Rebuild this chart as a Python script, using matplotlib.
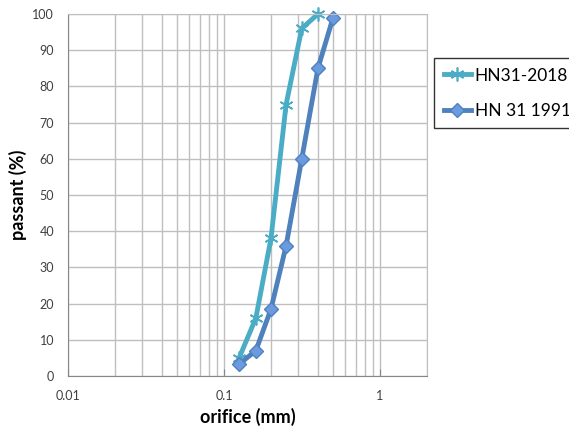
import numpy as np
import matplotlib.pyplot as plt
from matplotlib.ticker import LogLocator, FixedLocator, NullFormatter

plt.rcParams['font.family'] = ['Lato', 'DejaVu Sans']

# sieve openings (mm) and percent passing
x_2018 = [0.125, 0.16, 0.2, 0.25, 0.315, 0.4]
y_2018 = [5, 16, 38, 75, 96, 100]
x_1991 = [0.125, 0.16, 0.2, 0.25, 0.315, 0.4, 0.5]
y_1991 = [3.3, 7, 18.5, 36, 60, 85, 99]

fig = plt.figure(figsize=(5.69, 4.32), dpi=100)
ax = fig.add_axes([68/569, 56/432, 359/569, 362/432])

ax.plot(x_2018, y_2018, color='#4BACC6', lw=3.5, marker=(6, 2, 0),
        ms=10, mew=1.2, label='HN31-2018', clip_on=False)
ax.plot(x_1991, y_1991, color='#4F81BD', lw=3.5, marker='D', ms=7,
        mfc='#6A9BE0', mec='#4F81BD', label='HN 31 1991', clip_on=False)

ax.set_xscale('log')
ax.set_xlim(0.01, 2)
ax.set_ylim(0, 100)
ax.xaxis.set_major_locator(FixedLocator([0.01, 0.1, 1]))
ax.xaxis.set_minor_locator(LogLocator(base=10, subs=np.arange(2, 10)))
ax.xaxis.set_minor_formatter(NullFormatter())
ax.set_xticklabels(['0.01', '0.1', '1'])
ax.set_yticks(np.arange(0, 101, 10))

ax.grid(True, which='both', axis='x', color='#BFBFBF', lw=1)
ax.grid(True, axis='y', color='#BFBFBF', lw=1)
ax.set_axisbelow(True)
for s in ['top', 'right']:
    ax.spines[s].set_color('#BFBFBF')
for s in ['left', 'bottom']:
    ax.spines[s].set_color('#868686')
ax.tick_params(axis='both', which='both', colors='#868686', labelcolor='#404040',
               labelsize=9)
ax.tick_params(axis='y', length=0, pad=10)
ax.tick_params(axis='x', which='major', length=5, direction='in', pad=10)
ax.tick_params(axis='x', which='minor', length=0)

ax.set_xlabel('orifice (mm)', fontsize=13, fontweight='bold', labelpad=4)
ax.set_ylabel('passant (%)', fontsize=13, fontweight='bold', labelpad=4)

leg = fig.legend(loc='upper left', bbox_to_anchor=(434/569, 1 - 58/432),
                 fontsize=12.5, frameon=True, fancybox=False, borderpad=0.55,
                 borderaxespad=0, handlelength=1.6, handletextpad=0.2,
                 labelspacing=1.1)
leg.get_frame().set_edgecolor('black')
leg.get_frame().set_linewidth(1)

fig.savefig('out.png', dpi=100)
